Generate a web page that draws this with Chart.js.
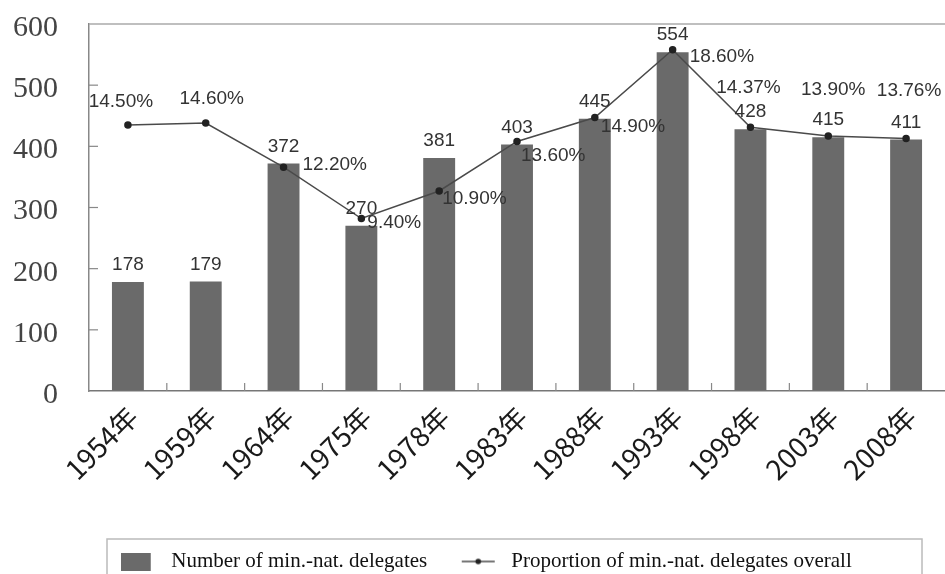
<!DOCTYPE html>
<html><head><meta charset="utf-8">
<script src="https://cdn.jsdelivr.net/npm/chart.js@4/dist/chart.umd.min.js"></script>
<style>html,body{margin:0;padding:0;background:#fff;overflow:hidden}canvas{display:block}</style>
</head><body><canvas id="c" width="945" height="574"></canvas>
<script>
const categories = ['1954年','1959年','1964年','1975年','1978年','1983年','1988年','1993年','1998年','2003年','2008年'];
const delegates = [178,179,372,270,381,403,445,554,428,415,411];
const proportions = [14.50,14.60,12.20,9.40,10.90,13.60,14.90,18.60,14.37,13.90,13.76];
const yTicks = [0,100,200,300,400,500,600];
const seriesNames = ['Number of min.-nat. delegates','Proportion of min.-nat. delegates overall'];

// label placement for the percentage labels: [dx, dy, align]
const pctPlacement = [[-7,-23,'center'],[6,-24,'center'],[19,-2,'left'],[6,4,'left'],[3,8,'left'],[4,14,'left'],[6,9,'left'],[17,7,'left'],[-2,-40,'center'],[5,-46,'center'],[3,-48,'center']];

const BAR_COLOR = '#6a6a6a';
const LINE_COLOR = '#4a4a4a';

function makeBarIcon(){
  const c = document.createElement('canvas'); c.width = 40; c.height = 18;
  const x = c.getContext('2d'); x.fillStyle = BAR_COLOR; x.fillRect(0, 0, 30, 18); return c;
}
function makeLineIcon(){
  const c = document.createElement('canvas'); c.width = 40; c.height = 10;
  const x = c.getContext('2d'); x.strokeStyle = LINE_COLOR; x.lineWidth = 1.5;
  x.beginPath(); x.moveTo(1, 5); x.lineTo(34, 5); x.stroke();
  x.fillStyle = '#222'; x.beginPath(); x.arc(17.5, 5, 2.8, 0, Math.PI*2); x.fill(); return c;
}
const barIcon = makeBarIcon();
const lineIcon = makeLineIcon();

const decorPlugin = {
  id: 'decor',
  afterLayout(chart){
    const lg = chart.legend;
    if (lg) { lg.left = 27.5; lg.top += 8; lg.bottom += 8; }
  },
  afterDraw(chart){
    const ctx = chart.ctx, a = chart.chartArea;
    const y = chart.scales.y, x = chart.scales.x;
    ctx.save();
    // top border
    ctx.strokeStyle = '#aaa'; ctx.lineWidth = 1.5;
    ctx.beginPath(); ctx.moveTo(a.left, a.top); ctx.lineTo(a.right, a.top); ctx.stroke();
    // inward y ticks
    ctx.strokeStyle = '#888'; ctx.lineWidth = 1.2;
    yTicks.forEach(v => { if (v === 0 || v === 600) return; const py = y.getPixelForValue(v);
      ctx.beginPath(); ctx.moveTo(a.left, py); ctx.lineTo(a.left + 9, py); ctx.stroke(); });
    // inward x category boundary ticks
    for (let i = 1; i < categories.length; i++) {
      const px = (x.getPixelForValue(i-1) + x.getPixelForValue(i)) / 2;
      ctx.beginPath(); ctx.moveTo(px, a.bottom); ctx.lineTo(px, a.bottom - 8); ctx.stroke();
    }
    // legend frame
    ctx.strokeStyle = '#bbb'; ctx.lineWidth = 1.5;
    ctx.strokeRect(107, 539, 815, 60);
    ctx.restore();
  },
  afterDatasetsDraw(chart){
    const ctx = chart.ctx;
    ctx.save();
    ctx.font = '19px "Liberation Sans", Arial, sans-serif';
    ctx.fillStyle = '#333';
    ctx.textBaseline = 'middle';
    const bars = chart.getDatasetMeta(0).data;
    bars.forEach((el, i) => { ctx.textAlign = 'center'; ctx.fillText(String(delegates[i]), el.x, el.y - 17); });
    const pts = chart.getDatasetMeta(1).data;
    pts.forEach((el, i) => { const p = pctPlacement[i]; ctx.textAlign = p[2];
      ctx.fillText(proportions[i].toFixed(2) + '%', el.x + p[0], el.y + p[1]); });
    ctx.restore();
  }
};

new Chart(document.getElementById('c'), {
  data: {
    labels: categories,
    datasets: [
      { type: 'bar', label: seriesNames[0], data: delegates, backgroundColor: BAR_COLOR, yAxisID: 'y', order: 2,
        categoryPercentage: 1, barPercentage: 0.41 },
      { type: 'line', label: seriesNames[1], data: proportions, yAxisID: 'y1', order: 1, clip: false,
        borderColor: LINE_COLOR, borderWidth: 1.5, pointRadius: 3, pointBackgroundColor: '#222', pointBorderColor: '#222', tension: 0 }
    ]
  },
  options: {
    responsive: false, animation: false, devicePixelRatio: 1,
    layout: { autoPadding: false, padding: { top: 24, left: 0, right: 0, bottom: 0 } },
    plugins: {
      tooltip: { enabled: false },
      legend: {
        position: 'bottom',
        labels: {
          usePointStyle: true, pointStyleWidth: 40, padding: 33.5,
          font: { family: '"Liberation Serif", "Times New Roman", serif', size: 21 }, color: '#111',
          generateLabels: () => [
            { text: seriesNames[0], pointStyle: barIcon, fillStyle: BAR_COLOR, strokeStyle: 'rgba(0,0,0,0)', lineWidth: 0, hidden: false, datasetIndex: 0, fontColor: '#111' },
            { text: seriesNames[1], pointStyle: lineIcon, fillStyle: LINE_COLOR, strokeStyle: 'rgba(0,0,0,0)', lineWidth: 0, hidden: false, datasetIndex: 1, fontColor: '#111' }
          ]
        }
      }
    },
    scales: {
      x: {
        offset: true,
        grid: { display: true, drawOnChartArea: false, drawTicks: false },
        border: { display: true, color: '#777', width: 1.5 },
        ticks: { autoSkip: false, minRotation: 45, maxRotation: 45, padding: 9, labelOffset: 5, color: '#1a1a1a',
          font: { family: '"Noto Sans CJK SC", "Noto Sans", sans-serif', size: 27.5 } },
        afterFit: s => { s.height = 118.5; s.paddingLeft = 0; s.paddingRight = 0; }
      },
      y: {
        min: 0, max: 600,
        afterBuildTicks: s => { s.ticks = yTicks.map(v => ({ value: v })); },
        grid: { display: true, drawOnChartArea: false, drawTicks: false },
        border: { display: true, color: '#888', width: 1.5 },
        ticks: { padding: 31, labelOffset: 4, color: '#444', font: { family: '"Liberation Serif", "Times New Roman", serif', size: 30 } },
        afterFit: s => { s.width = 89; s.paddingTop = 0; s.paddingBottom = 0; }
      },
      y1: { display: false, min: 0, max: 20 }
    }
  },
  plugins: [decorPlugin]
});
</script></body></html>
